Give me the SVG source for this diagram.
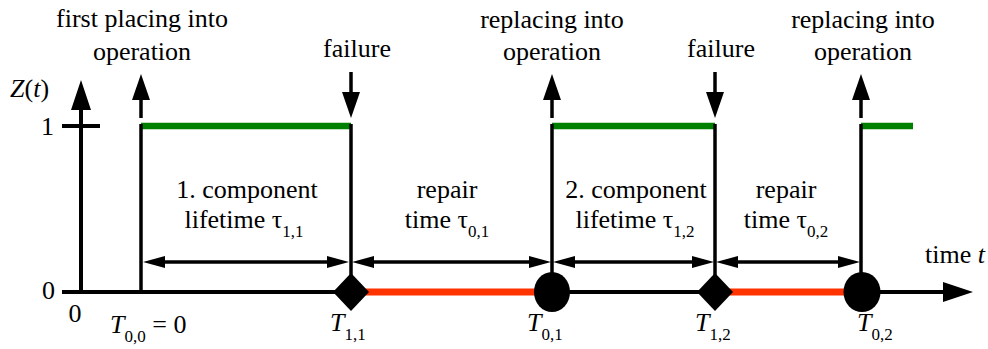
<svg xmlns="http://www.w3.org/2000/svg" width="988" height="349" viewBox="0 0 988 349" font-family="'Liberation Serif', 'DejaVu Serif', serif">
<style>
text{font-family:'Liberation Serif','DejaVu Serif',serif;font-size:26px;fill:#000}
.it{font-style:italic}
.sub{font-size:17px;font-style:normal}
.ln{stroke:#000;stroke-width:3.5;fill:none}
.ax{stroke:#000;stroke-width:4;fill:none}
.up{stroke:#008000;stroke-width:6.5;fill:none}
.down{stroke:#ff3300;stroke-width:7;fill:none}
.dbl{stroke:#000;stroke-width:3.5;fill:none;marker-start:url(#dh);marker-end:url(#dh)}
.ev{stroke:#000;stroke-width:3.5;fill:none;marker-end:url(#eh)}
</style>
<defs>
<marker id="ah" markerUnits="userSpaceOnUse" markerWidth="30" markerHeight="20" refX="0" refY="10" orient="auto" overflow="visible"><path d="M0,0 L30,10 L0,20 z" fill="#000"/></marker>
<marker id="dh" markerUnits="userSpaceOnUse" markerWidth="22" markerHeight="12" refX="0" refY="6" orient="auto-start-reverse" overflow="visible"><path d="M0,0 L22,6 L0,12 z" fill="#000"/></marker>
<marker id="eh" markerUnits="userSpaceOnUse" markerWidth="26" markerHeight="18" refX="0" refY="9" orient="auto" overflow="visible"><path d="M0,0 L26,9 L0,18 z" fill="#000"/></marker>
</defs>

<g id="axes">
<line class="ax" x1="81" y1="292" x2="81" y2="110" marker-end="url(#ah)"/>
<line class="ax" x1="62" y1="292" x2="943" y2="292" marker-end="url(#ah)"/>
<line class="ax" x1="62" y1="126" x2="100" y2="126"/>
<text x="10" y="97"><tspan class="it">Z</tspan>(<tspan class="it">t</tspan>)</text>
<text x="54" y="135" text-anchor="end">1</text>
<text x="55" y="299" text-anchor="end">0</text>
<text x="75" y="322" text-anchor="middle">0</text>
<text x="925" y="263">time <tspan class="it">t</tspan></text>
</g>

<g id="state">
<line class="up" x1="141" y1="126" x2="351" y2="126"/>
<line class="up" x1="552" y1="126" x2="715" y2="126"/>
<line class="up" x1="861" y1="126" x2="913" y2="126"/>
<line class="down" x1="351" y1="292" x2="552" y2="292"/>
<line class="down" x1="715" y1="292" x2="862" y2="292"/>
<line class="ln" x1="141" y1="124" x2="141" y2="292"/>
<line class="ln" x1="351" y1="124" x2="351" y2="280"/>
<line class="ln" x1="552" y1="124" x2="552" y2="280"/>
<line class="ln" x1="715" y1="124" x2="715" y2="280"/>
<line class="ln" x1="861" y1="124" x2="861" y2="280"/>
</g>

<g id="start0">
<line class="ev" x1="141" y1="118" x2="141" y2="100"/>
<text x="142" y="27" text-anchor="middle">first placing into</text>
<text x="142" y="60" text-anchor="middle">operation</text>
<text x="110" y="333" class="it">T<tspan class="sub" dy="9">0,0</tspan><tspan dy="-9" style="font-style:normal"> = 0</tspan></text>
</g>

<g id="fail1">
<line class="ev" x1="351" y1="72" x2="351" y2="92"/>
<text x="357" y="57" text-anchor="middle">failure</text>
<polygon points="351,273 369,292 351,311 333,292" fill="#000"/>
<text x="330" y="331" class="it">T<tspan class="sub" dy="9">1,1</tspan></text>
</g>

<g id="repl1">
<line class="ev" x1="552" y1="118" x2="552" y2="100"/>
<text x="552" y="28" text-anchor="middle">replacing into</text>
<text x="552" y="60" text-anchor="middle">operation</text>
<ellipse cx="552" cy="292" rx="18" ry="20" fill="#000"/>
<text x="527" y="331" class="it">T<tspan class="sub" dy="9">0,1</tspan></text>
</g>

<g id="fail2">
<line class="ev" x1="715" y1="72" x2="715" y2="92"/>
<text x="721" y="57" text-anchor="middle">failure</text>
<polygon points="715,273 733,292 715,311 697,292" fill="#000"/>
<text x="695" y="331" class="it">T<tspan class="sub" dy="9">1,2</tspan></text>
</g>

<g id="repl2">
<line class="ev" x1="861" y1="118" x2="861" y2="100"/>
<text x="863" y="28" text-anchor="middle">replacing into</text>
<text x="863" y="60" text-anchor="middle">operation</text>
<ellipse cx="862" cy="292" rx="18.5" ry="20" fill="#000"/>
<text x="857" y="331" class="it">T<tspan class="sub" dy="9">0,2</tspan></text>
</g>

<g id="connectors">
<line class="dbl" x1="165" y1="262" x2="327" y2="262"/>
<line class="dbl" x1="374" y1="262" x2="529" y2="262"/>
<line class="dbl" x1="575" y1="262" x2="692" y2="262"/>
<line class="dbl" x1="738" y1="262" x2="838" y2="262"/>
</g>

<g id="intervals">
<text x="247" y="198" text-anchor="middle">1. component</text>
<text x="244" y="228" text-anchor="middle">lifetime τ<tspan class="sub" dy="9">1,1</tspan></text>
<text x="447" y="198" text-anchor="middle">repair</text>
<text x="447" y="228" text-anchor="middle">time τ<tspan class="sub" dy="9">0,1</tspan></text>
<text x="636" y="198" text-anchor="middle">2. component</text>
<text x="635" y="228" text-anchor="middle">lifetime τ<tspan class="sub" dy="9">1,2</tspan></text>
<text x="786" y="198" text-anchor="middle">repair</text>
<text x="786" y="228" text-anchor="middle">time τ<tspan class="sub" dy="9">0,2</tspan></text>
</g>
</svg>
